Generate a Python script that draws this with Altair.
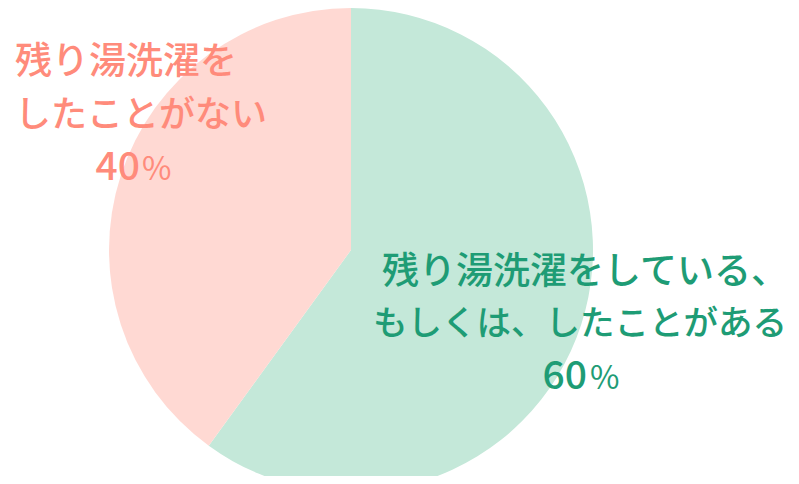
import altair as alt
import pandas as pd

categories = ["残り湯洗濯をしている、もしくは、したことがある", "残り湯洗濯をしたことがない"]
values = [60, 40]
fills = ["#c4e8d9", "#ffd9d3"]

green_lines = ["残り湯洗濯をしている、", "もしくは、したことがある"]
green_pct = ["60", "%"]
pink_lines = ["残り湯洗濯を", "したことがない"]
pink_pct = ["40", "%"]

GREEN_TXT = "#1e9c75"
PINK_TXT = "#ff8b7b"
FONT = "Noto Sans CJK JP"

df = pd.DataFrame({"cat": categories, "val": values, "order": [0, 1]})

pie = alt.Chart(df).mark_arc(outerRadius=242, stroke=None).encode(
    theta=alt.Theta("val:Q", stack=True),
    order=alt.Order("order:Q"),
    color=alt.Color("cat:N", scale=alt.Scale(domain=categories, range=fills), legend=None),
    x=alt.value(343),
    y=alt.value(234),
)


def txt(s, x, y, color, size=36, align="left", weight=500):
    return alt.Chart(pd.DataFrame({"t": [s]})).mark_text(
        font=FONT, fontSize=size, fontWeight=weight, color=color,
        align=align, baseline="middle"
    ).encode(text="t:N", x=alt.value(x), y=alt.value(y))


layers = [pie]
layers.append(txt(green_lines[0], 374, 257, GREEN_TXT, size=37))
layers.append(txt(green_lines[1], 365, 309, GREEN_TXT, size=34.5))
layers.append(txt(green_pct[0], 579, 361, GREEN_TXT, size=39, align="right"))
layers.append(txt(green_pct[1], 582, 363, GREEN_TXT, size=32, weight="normal"))
layers.append(txt(pink_lines[0], 7, 47, PINK_TXT, size=37))
layers.append(txt(pink_lines[1], 7, 100, PINK_TXT))
layers.append(txt(pink_pct[0], 132, 152, PINK_TXT, size=39, align="right"))
layers.append(txt(pink_pct[1], 134, 154, PINK_TXT, size=32, weight="normal"))

chart = alt.layer(*layers).properties(
    width=783, height=468,
    autosize=alt.AutoSizeParams(type="fit", contains="padding"),
    padding=0,
).configure_view(stroke=None)

chart.save("out.html", embed_options={"renderer": "svg", "actions": False})
